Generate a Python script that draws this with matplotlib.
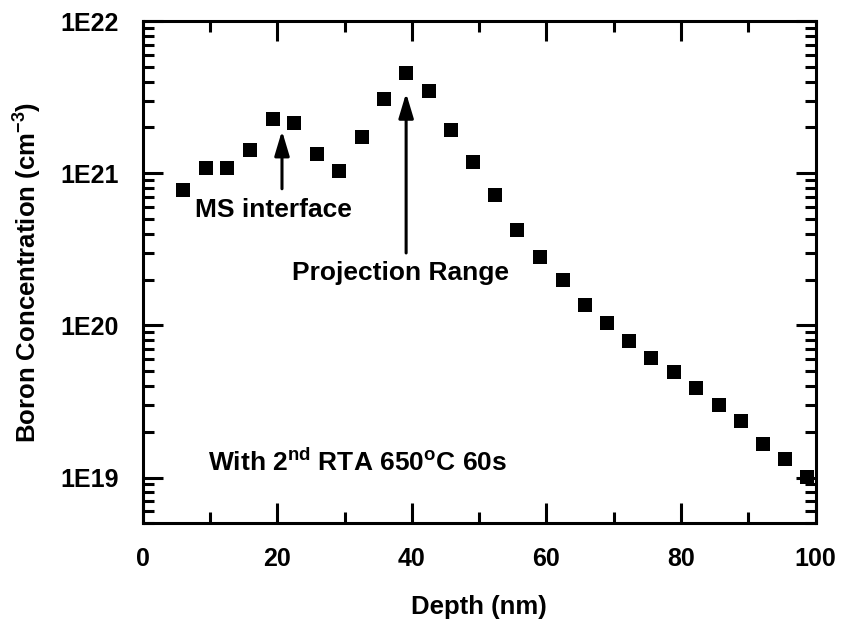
import matplotlib
matplotlib.use('Agg')
import matplotlib.pyplot as plt
from matplotlib.ticker import FixedLocator, LogLocator, NullFormatter

# Data (depth in nm, boron conc. in cm^-3)
depth = [6.0, 9.4, 12.6, 16.0, 19.3, 22.5, 25.9, 29.2, 32.6, 35.9,
         39.2, 42.5, 45.8, 49.1, 52.4, 55.7, 59.1, 62.4, 65.7, 69.0,
         72.3, 75.6, 78.9, 82.2, 85.7, 88.9, 92.2, 95.5, 98.8]
conc = [7.8e20, 1.08e21, 1.08e21, 1.41e21, 2.28e21, 2.13e21, 1.34e21, 1.04e21, 1.73e21, 3.08e21,
        4.54e21, 3.49e21, 1.93e21, 1.18e21, 7.2e20, 4.25e20, 2.8e20, 1.98e20, 1.37e20, 1.03e20,
        7.9e19, 6.1e19, 4.9e19, 3.9e19, 3.0e19, 2.36e19, 1.67e19, 1.33e19, 1.01e19]

xticks = [0, 20, 40, 60, 80, 100]
yticks = [1e19, 1e20, 1e21, 1e22]
ytick_labels = ['1E19', '1E20', '1E21', '1E22']

# Fonts
plt.rcParams['font.family'] = ['Liberation Sans', 'DejaVu Sans']
plt.rcParams['font.weight'] = 'bold'
plt.rcParams['mathtext.fontset'] = 'custom'
plt.rcParams['mathtext.rm'] = 'Liberation Sans:bold'
plt.rcParams['mathtext.bf'] = 'Liberation Sans:bold'
plt.rcParams['mathtext.it'] = 'Liberation Sans:bold'
plt.rcParams['mathtext.default'] = 'bf'

fig = plt.figure(figsize=(8.43, 6.29), dpi=100)
ax = fig.add_axes([0.1693, 0.168, 0.7981, 0.7986])

ax.plot(depth, conc, linestyle='none', marker='s', markersize=10,
        color='black', markeredgewidth=0)

ax.set_yscale('log')
ax.set_xlim(0, 100)
ax.set_ylim(5e18, 1e22)

ax.set_xticks(xticks)
ax.xaxis.set_minor_locator(FixedLocator([10, 30, 50, 70, 90]))
ax.set_yticks(yticks, labels=ytick_labels)
ax.yaxis.set_minor_locator(LogLocator(base=10, subs=range(2, 10)))
ax.yaxis.set_minor_formatter(NullFormatter())

for s in ax.spines.values():
    s.set_linewidth(2.2)
ax.tick_params(which='both', direction='in', top=True, right=True,
               width=2.2, labelsize=18, pad=17)
ax.tick_params(which='major', length=14.5)
ax.tick_params(which='minor', length=8)

ax.set_xlabel('Depth (nm)', fontsize=18.5, fontweight='bold')
ax.xaxis.set_label_coords(0.5, -0.143)
ax.set_ylabel('Boron Concentration (cm$^{-3}$)', fontsize=18.5, fontweight='bold')
ax.yaxis.set_label_coords(-0.147, 0.5)

# Arrows
arrow = dict(arrowstyle='-|>,head_length=1.5,head_width=0.45', lw=2.2,
             color='black', shrinkA=0, shrinkB=0, mutation_scale=10)
ax.annotate('', xy=(20.7, 1.9e21), xytext=(20.7, 7.9e20), arrowprops=arrow)
ax.annotate('', xy=(39.15, 3.36e21), xytext=(39.15, 2.99e20), arrowprops=arrow)

# Labels
ax.text(7.8, 5.12e20, 'MS interface', fontsize=19, fontweight='bold', va='baseline')
ax.text(22.2, 2.0e20, 'Projection Range', fontsize=19, fontweight='bold', va='baseline')
ax.text(9.75, 1.10e19, 'With 2$^{nd}$ RTA 650$^{o}$C 60s', fontsize=19,
        fontweight='bold', va='baseline')

plt.savefig('out.png', dpi=100)
